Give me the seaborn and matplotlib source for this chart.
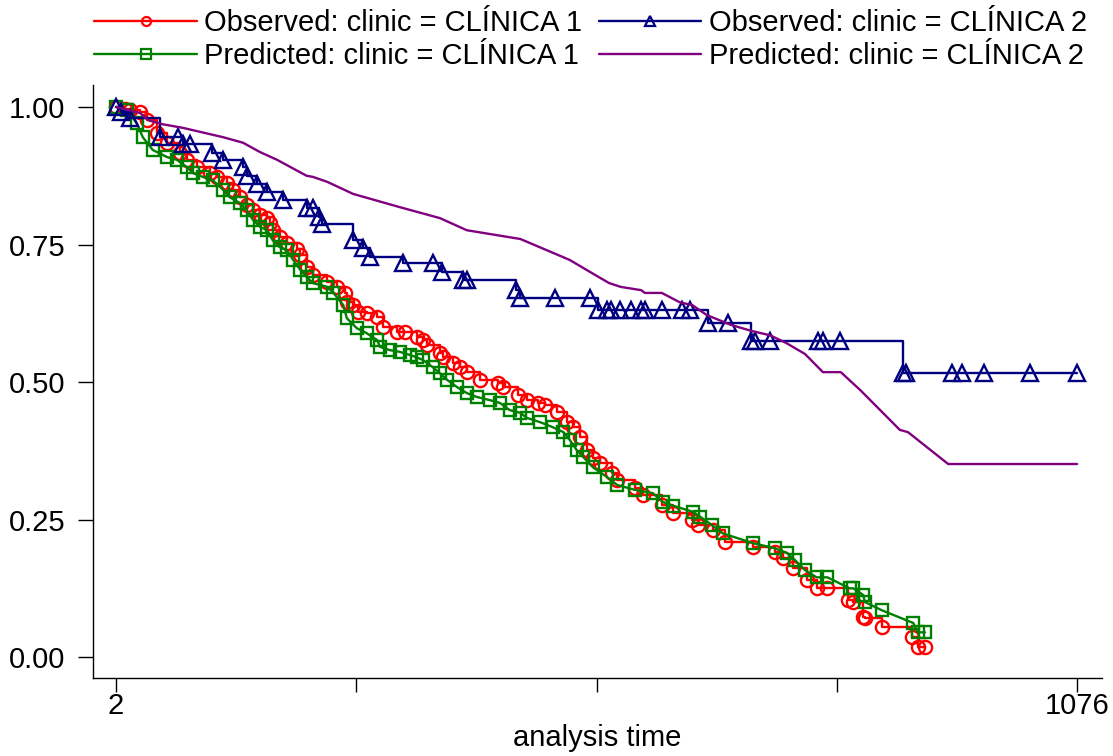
import numpy as np
import pandas as pd
import matplotlib
matplotlib.use("Agg")
import matplotlib.pyplot as plt
import seaborn as sns

# ---- data (analysis time in days, survival probability) ----
obs1_time = [2, 12, 18, 29, 37, 48, 59, 74, 81, 93, 107, 115, 126, 133, 141, 148, 155, 163, 171, 174,
             177, 185, 193, 204, 208, 215, 222, 238, 249, 258, 260, 267, 272, 282, 294, 300, 316, 325,
             338, 345, 350, 364, 367, 379, 386, 394, 409, 429, 435, 451, 461, 474, 481, 495, 506, 513,
             521, 528, 535, 543, 556, 562, 582, 591, 612, 625, 646, 652, 669, 683, 714, 738, 747, 759,
             774, 785, 797, 820, 826, 837, 839, 858, 892, 898, 906]
obs1_surv = [1.000, 0.996, 0.995, 0.991, 0.976, 0.953, 0.935, 0.916, 0.904, 0.891, 0.880, 0.873, 0.862,
             0.849, 0.836, 0.822, 0.813, 0.804, 0.798, 0.789, 0.776, 0.764, 0.753, 0.742, 0.731, 0.709,
             0.695, 0.682, 0.673, 0.662, 0.645, 0.640, 0.627, 0.625, 0.618, 0.600, 0.591, 0.591, 0.582,
             0.576, 0.567, 0.553, 0.545, 0.535, 0.527, 0.518, 0.504, 0.498, 0.491, 0.476, 0.467, 0.462,
             0.458, 0.445, 0.427, 0.418, 0.400, 0.376, 0.362, 0.353, 0.335, 0.322, 0.307, 0.295, 0.276,
             0.262, 0.249, 0.240, 0.231, 0.209, 0.200, 0.191, 0.180, 0.162, 0.140, 0.125, 0.125, 0.104,
             0.100, 0.073, 0.071, 0.055, 0.036, 0.018, 0.018]

pred1_time = [2, 14, 25, 32, 43, 59, 70, 81, 88, 99, 110, 122, 129, 141, 148, 155, 163, 171, 177, 185,
              193, 200, 208, 215, 222, 238, 245, 256, 260, 271, 282, 294, 297, 308, 319, 331, 338, 345,
              356, 364, 372, 383, 394, 405, 420, 431, 442, 454, 461, 476, 490, 502, 509, 517, 524, 535,
              551, 562, 582, 602, 613, 625, 647, 655, 668, 680, 714, 738, 752, 761, 772, 785, 797, 822,
              826, 837, 839, 858, 893, 898, 906]
pred1_surv = [1.000, 0.995, 0.971, 0.945, 0.922, 0.909, 0.904, 0.891, 0.880, 0.873, 0.867, 0.849, 0.836,
              0.825, 0.813, 0.795, 0.782, 0.776, 0.758, 0.745, 0.740, 0.722, 0.704, 0.691, 0.680, 0.673,
              0.662, 0.640, 0.616, 0.598, 0.589, 0.576, 0.564, 0.558, 0.555, 0.549, 0.545, 0.540, 0.527,
              0.516, 0.504, 0.491, 0.480, 0.473, 0.467, 0.462, 0.449, 0.444, 0.435, 0.427, 0.418, 0.409,
              0.395, 0.376, 0.364, 0.345, 0.327, 0.313, 0.304, 0.298, 0.282, 0.275, 0.264, 0.255, 0.240,
              0.225, 0.207, 0.198, 0.189, 0.176, 0.158, 0.145, 0.145, 0.125, 0.125, 0.113, 0.100, 0.085,
              0.062, 0.045, 0.045]

obs2_time = [2, 8, 18, 51, 71, 77, 85, 109, 122, 144, 148, 160, 171, 189, 215, 222, 229, 232, 267, 278,
             286, 323, 356, 366, 390, 394, 449, 454, 493, 532, 541, 551, 555, 565, 578, 589, 593, 612,
             635, 644, 664, 686, 712, 716, 733, 787, 792, 811, 882, 885, 936, 947, 972, 1023, 1076]
obs2_surv = [1.000, 0.991, 0.980, 0.945, 0.945, 0.933, 0.933, 0.916, 0.904, 0.891, 0.875, 0.860, 0.845,
             0.831, 0.816, 0.816, 0.800, 0.787, 0.758, 0.744, 0.727, 0.716, 0.716, 0.700, 0.685, 0.685,
             0.667, 0.653, 0.653, 0.653, 0.631, 0.631, 0.631, 0.631, 0.631, 0.631, 0.631, 0.631, 0.631,
             0.631, 0.607, 0.607, 0.575, 0.575, 0.575, 0.575, 0.575, 0.575, 0.516, 0.516, 0.516, 0.516,
             0.516, 0.516, 0.516]

pred2_time = [2, 14, 29, 38, 53, 77, 122, 144, 163, 182, 215, 222, 238, 267, 319, 364, 394, 454, 509,
              534, 553, 566, 589, 593, 612, 632, 646, 662, 689, 712, 733, 751, 772, 792, 812, 834, 878,
              887, 932, 1076]
pred2_surv = [1.000, 0.995, 0.989, 0.976, 0.969, 0.962, 0.945, 0.935, 0.918, 0.904, 0.875, 0.873, 0.864,
              0.842, 0.818, 0.798, 0.776, 0.760, 0.722, 0.698, 0.680, 0.673, 0.667, 0.662, 0.662, 0.645,
              0.640, 0.622, 0.604, 0.593, 0.585, 0.571, 0.551, 0.518, 0.518, 0.485, 0.413, 0.409, 0.351,
              0.351]

labels = ["Observed: clinic = CLÍNICA 1", "Predicted: clinic = CLÍNICA 1",
          "Observed: clinic = CLÍNICA 2", "Predicted: clinic = CLÍNICA 2"]
x_ticks = [2, 270.5, 539, 807.5, 1076]
x_ticklabels = ["2", "", "", "", "1076"]
y_ticks = [0, 0.25, 0.5, 0.75, 1.0]
y_ticklabels = ["0.00", "0.25", "0.50", "0.75", "1.00"]
x_title = "analysis time"

sns.set_theme(style="white")
plt.rcParams["font.family"] = ["Liberation Sans", "DejaVu Sans"]
plt.rcParams["text.color"] = "black"
plt.rcParams["axes.labelcolor"] = "black"

FS = 21

fig = plt.figure(figsize=(11.13, 7.56), dpi=100)
ax = fig.add_axes([93 / 1113, 1 - 678 / 756, (1102 - 93) / 1113, (678 - 85) / 756])

lw = 1.7
mew = 1.7
series = [
    (obs1_time, obs1_surv, "#ff0000", "o", 9.5, "steps-post", labels[0]),
    (pred1_time, pred1_surv, "#008000", "s", 9.0, "default", labels[1]),
    (obs2_time, obs2_surv, "#000080", "^", 11.5, "steps-post", labels[2]),
    (pred2_time, pred2_surv, "#800080", None, 0, "default", labels[3]),
]
handles = []
for t, s, col, mk, ms, ds, lab in series:
    df = pd.DataFrame({"t": t, "s": s})
    sns.lineplot(data=df, x="t", y="s", ax=ax, estimator=None, sort=False,
                 color=col, linewidth=lw, drawstyle=ds,
                 marker=mk if mk else "", markersize=ms,
                 markerfacecolor="none", markeredgecolor=col, markeredgewidth=mew,
                 legend=False)
    h, = ax.plot([], [], color=col, linewidth=lw, marker=mk if mk else "",
                 markersize=6.5, markerfacecolor="none", markeredgecolor=col,
                 markeredgewidth=1.6, label=lab)
    handles.append(h)

ax.set_xlim(-23.7, 1103.9)
ax.set_ylim(-0.038, 1.040)
ax.set_xticks(x_ticks)
ax.set_xticklabels(x_ticklabels)
ax.set_yticks(y_ticks)
ax.set_yticklabels(y_ticklabels)
ax.set_xlabel(x_title, fontsize=FS, labelpad=3, color="black")
ax.set_ylabel("")

for side in ["top", "right"]:
    ax.spines[side].set_visible(False)
for side in ["left", "bottom"]:
    ax.spines[side].set_visible(True)
    ax.spines[side].set_color("black")
    ax.spines[side].set_linewidth(1.0)

ax.tick_params(axis="both", which="major", direction="out", colors="black",
               labelsize=FS, width=1.0, bottom=True, left=True)
ax.tick_params(axis="y", length=10.8, pad=9)
ax.tick_params(axis="x", length=10, pad=0)
ax.grid(False)

leg = fig.legend(handles=handles, loc="upper left", bbox_to_anchor=(93 / 1113, 0.990),
                 ncol=2, frameon=False, fontsize=FS, handlelength=3.5, handletextpad=0.25,
                 columnspacing=0.6, labelspacing=0.165, borderpad=0.05, borderaxespad=0.0)
for txt in leg.get_texts():
    txt.set_color("black")

fig.savefig("out.png", dpi=100, facecolor="white")
